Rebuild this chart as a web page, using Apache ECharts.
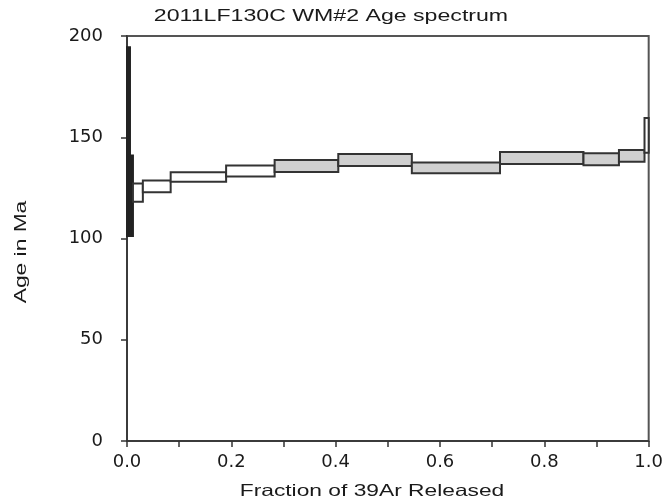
<!DOCTYPE html>
<html>
<head>
<meta charset="utf-8">
<script src="https://cdn.jsdelivr.net/npm/echarts@6/dist/echarts.min.js"></script>
<style>
    html, body {margin: 0; padding: 0; background: #fff;}
    #main {width: 666px; height: 503px;}
</style>
</head>
<body>
<div id="main"></div>
<script>
// step edges along the cumulative 39Ar fraction
var fractionEdges = [0, 0.0057, 0.0114, 0.0304, 0.0837, 0.190, 0.283, 0.405, 0.546, 0.715, 0.875, 0.943, 0.992, 1.0];
// age box per step (Ma), lower and upper bound
var ageLow  = [101.2, 101.2, 118.2, 122.8, 128.0, 130.6, 132.8, 135.8, 132.2, 136.8, 136.2, 137.9, 142.3];
var ageHigh = [194.5, 141.0, 127.2, 128.6, 132.7, 136.0, 138.8, 141.7, 137.5, 142.7, 142.1, 143.7, 159.5];
// how each step is filled
var stepFill = ['black', 'black', 'white', 'white', 'white', 'white', 'gray', 'gray', 'gray', 'gray', 'gray', 'gray', 'white'];
var yTicks = [0, 50, 100, 150, 200];

var fillColors = {black: '#222222', gray: '#d0d0d0', white: '#ffffff'};

var steps = [];
for (var i = 0; i < ageLow.length; i++) {
    steps.push([fractionEdges[i], fractionEdges[i + 1], ageLow[i], ageHigh[i], i]);
}

var myChart = echarts.init(document.getElementById('main'));

var option = {
    animation: false,
    grid: {
        left: 127, right: 13, top: 36, bottom: 62,
        show: true,
        borderColor: '#555',
        borderWidth: 2
    },
    xAxis: {
        type: 'value',
        min: 0, max: 1, interval: 0.1,
        splitLine: {show: false},
        axisLine: {lineStyle: {color: '#333', width: 1.5}},
        axisTick: {length: 6, lineStyle: {color: '#333', width: 1.5}},
        axisLabel: {
            color: '#1a1a1a',
            fontFamily: 'DejaVu Sans',
            fontSize: 18,
            margin: 12,
            formatter: function (v) {
                var r = Math.round(v * 10);
                return r % 2 === 0 ? (r / 10).toFixed(1) : '';
            }
        }
    },
    yAxis: {
        type: 'value',
        min: yTicks[0], max: yTicks[yTicks.length - 1], interval: 50,
        splitLine: {show: false},
        axisLine: {lineStyle: {color: '#333', width: 1.5}},
        axisTick: {length: 6, lineStyle: {color: '#333', width: 1.5}},
        axisLabel: {
            color: '#1a1a1a',
            fontFamily: 'DejaVu Sans',
            fontSize: 18,
            margin: 24
        }
    },
    graphic: [
        {
            type: 'text', x: 331, y: 16, scaleX: 1.36,
            style: {text: '2011LF130C WM#2 Age spectrum', fill: '#1a1a1a', font: '17px "Liberation Sans"', textAlign: 'center', textVerticalAlign: 'middle'}
        },
        {
            type: 'text', x: 372, y: 491, scaleX: 1.38,
            style: {text: 'Fraction of 39Ar Released', fill: '#1a1a1a', font: '16.5px "Liberation Sans"', textAlign: 'center', textVerticalAlign: 'middle'}
        },
        {
            type: 'text', x: 21, y: 252, rotation: Math.PI / 2, scaleX: 1.38,
            style: {text: 'Age in Ma', fill: '#1a1a1a', font: '16.5px "Liberation Sans"', textAlign: 'center', textVerticalAlign: 'middle'}
        }
    ],
    series: [{
        type: 'custom',
        data: steps,
        renderItem: function (params, api) {
            var p0 = api.coord([api.value(0), api.value(3)]);
            var p1 = api.coord([api.value(1), api.value(2)]);
            var kind = stepFill[api.value(4)];
            return {
                type: 'rect',
                shape: {x: p0[0], y: p0[1], width: p1[0] - p0[0], height: p1[1] - p0[1]},
                style: {
                    fill: fillColors[kind],
                    stroke: kind === 'black' ? '#222' : '#333',
                    lineWidth: 2
                }
            };
        }
    }]
};

myChart.setOption(option);
</script>
</body>
</html>
